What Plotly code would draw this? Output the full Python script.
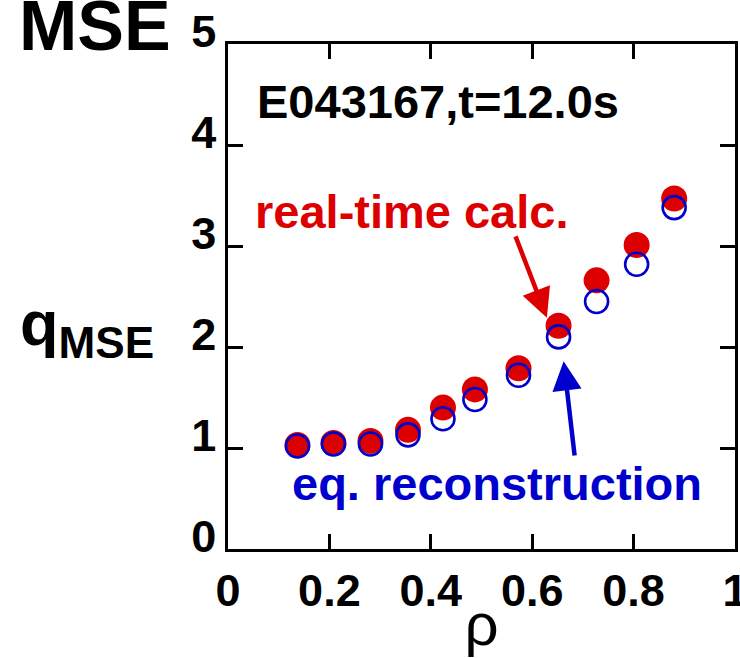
import plotly.graph_objects as go

# Normalized radius of each MSE channel
rho = [0.137, 0.208, 0.281, 0.355, 0.424, 0.487, 0.573, 0.652, 0.727, 0.806, 0.880]
# Safety factor from the real-time calculation
q_realtime = [1.03, 1.05, 1.07, 1.18, 1.40, 1.58, 1.79, 2.21, 2.66, 3.01, 3.47]
# Safety factor from the equilibrium reconstruction
q_eqrecon = [1.02, 1.04, 1.04, 1.13, 1.29, 1.48, 1.72, 2.10, 2.45, 2.82, 3.38]

x_ticks = [0, 0.2, 0.4, 0.6, 0.8, 1]
x_ticklabels = ["0", "0.2", "0.4", "0.6", "0.8", "1"]
y_ticks = [0, 1, 2, 3, 4, 5]

RED = "#dd0000"
BLUE = "#0000cc"
FONT = "Arial, Liberation Sans, sans-serif"

fig = go.Figure()

fig.add_trace(go.Scatter(
    x=rho, y=q_realtime, mode="markers", name="real-time calc.",
    marker=dict(symbol="circle", size=26, color=RED, line=dict(width=0)),
    showlegend=False,
))
fig.add_trace(go.Scatter(
    x=rho, y=q_eqrecon, mode="markers", name="eq. reconstruction",
    marker=dict(symbol="circle-open", size=23, color=BLUE, line=dict(width=2.6, color=BLUE)),
    showlegend=False,
))

axis_common = dict(
    showline=True, linewidth=2.5, linecolor="black", mirror="ticks",
    ticks="inside", ticklen=15, tickwidth=2.5, tickcolor="black",
    showgrid=False, zeroline=False, ticklabeloverflow="allow",
    tickfont=dict(family=FONT, size=45, color="black", weight="bold"),
)

fig.update_layout(
    width=740, height=658,
    margin=dict(l=228, r=5, t=44, b=109),
    paper_bgcolor="white", plot_bgcolor="white",
    xaxis=dict(range=[0, 1], tickvals=x_ticks, ticktext=x_ticklabels,
               automargin=False,
               title=dict(text="ρ", font=dict(family=FONT, size=60, color="black"), standoff=2),
               **axis_common),
    yaxis=dict(range=[0, 5], tickvals=y_ticks, ticklabelshift=-13,
               automargin=False,
               **axis_common),
)

annotations = [
    dict(text="E043167,t=12.0s", x=0.053, y=4.43, xref="x", yref="y",
         xanchor="left", yanchor="middle", showarrow=False,
         font=dict(family=FONT, size=47, color="black", weight="bold")),
    dict(text="real-time calc.", x=0.049, y=3.34, xref="x", yref="y",
         xanchor="left", yanchor="middle", showarrow=False,
         font=dict(family=FONT, size=47, color=RED, weight="bold")),
    dict(text="eq. reconstruction", x=0.122, y=0.65, xref="x", yref="y",
         xanchor="left", yanchor="middle", showarrow=False,
         font=dict(family=FONT, size=47, color=BLUE, weight="bold")),
    # arrow pointing to the real-time value
    dict(text="", x=0.629, y=2.29, xref="x", yref="y",
         ax=0.566, ay=3.11, axref="x", ayref="y",
         showarrow=True, arrowhead=2, arrowsize=1.3, arrowwidth=4.5, arrowcolor=RED),
    # arrow pointing to the reconstructed value
    dict(text="", x=0.662, y=1.86, xref="x", yref="y",
         ax=0.684, ay=0.91, axref="x", ayref="y",
         showarrow=True, arrowhead=2, arrowsize=1.3, arrowwidth=4.5, arrowcolor=BLUE),
    dict(text="MSE", x=-0.262, y=1.035, xref="paper", yref="paper",
         xanchor="center", yanchor="middle", showarrow=False,
         font=dict(family=FONT, size=70, color="black", weight="bold")),
    dict(text="q<sub>MSE</sub>", x=-0.414, y=0.438, xref="paper", yref="paper",
         xanchor="left", yanchor="middle", showarrow=False,
         font=dict(family=FONT, size=63, color="black", weight="bold")),
]
fig.update_layout(annotations=annotations)

fig.write_html("out.html")
